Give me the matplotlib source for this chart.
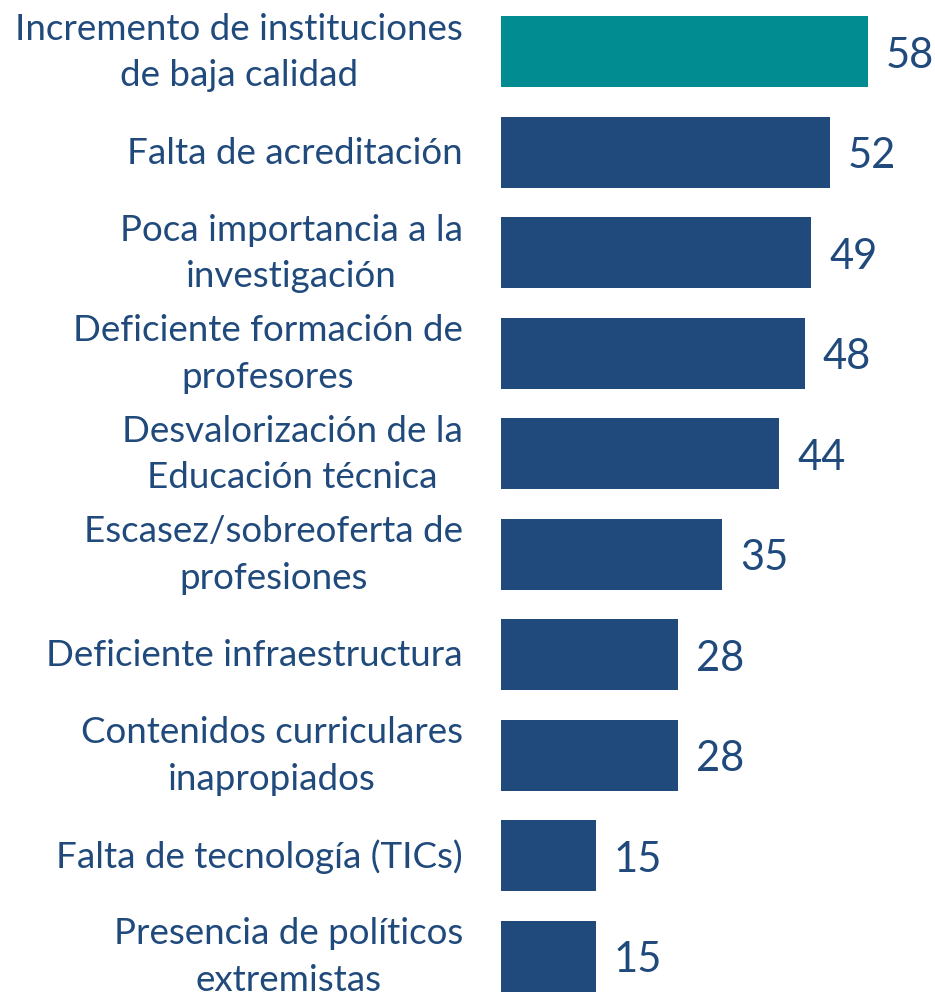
import matplotlib
matplotlib.use("Agg")
from matplotlib import pyplot as plt

labels = [
    "Incremento de instituciones\nde baja calidad",
    "Falta de acreditación",
    "Poca importancia a la\ninvestigación",
    "Deficiente formación de\nprofesores",
    "Desvalorización de la\nEducación técnica",
    "Escasez/sobreoferta de\nprofesiones",
    "Deficiente infraestructura",
    "Contenidos curriculares\ninapropiados",
    "Falta de tecnología (TICs)",
    "Presencia de políticos\nextremistas",
]
values = [58, 52, 49, 48, 44, 35, 28, 28, 15, 15]

navy = "#204A7C"
teal = "#008C91"
colors = [teal] + [navy] * (len(values) - 1)

plt.rcParams["font.family"] = ["Lato", "DejaVu Sans"]

W, H = 935, 995
fig = plt.figure(figsize=(W / 100, H / 100), dpi=100)

# axes starts where the bars start
left_px = 501
px_per_unit = 367 / 58
ax = fig.add_axes([left_px / W, 0, 1 - left_px / W, 1])
ax.set_xlim(0, (W - left_px) / px_per_unit)
step = 100.5
first = 52.5
ax.set_ylim((H - first) / step, -first / step)

ypos = list(range(len(values)))
ax.barh(ypos, values, height=71 / step, color=colors)

label_x = -(left_px - 463) / px_per_unit
for i, (lab, v) in enumerate(zip(labels, values)):
    ax.text(label_x, i, lab, ha="right", va="center", multialignment="center",
            fontsize=26.5, color=navy, clip_on=False, linespacing=1.5)
    ax.text(v + 18 / px_per_unit, i + 0.03, str(v), ha="left", va="center",
            fontsize=30, color=navy, clip_on=False)

ax.axis("off")
plt.savefig("out.png", dpi=100)
